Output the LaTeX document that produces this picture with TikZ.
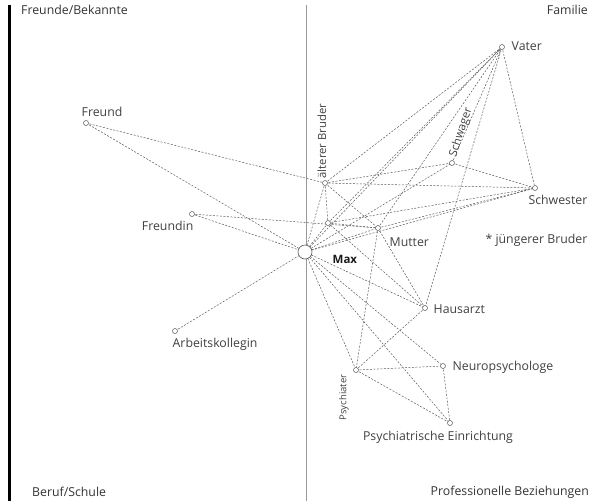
\documentclass[tikz,border=0pt]{standalone}
\usepackage{fontspec}
\setmainfont{Open Sans}
\begin{document}
\begin{tikzpicture}[x=1pt,y=-1pt,
  pnode/.style={circle,draw=black!65,fill=white,line width=0.5pt,inner sep=0pt,minimum size=5pt},
  maxnode/.style={circle,draw=black!65,fill=white,line width=0.6pt,inner sep=0pt,minimum size=14pt},
  rel/.style={draw=black!65,line width=0.5pt,dash pattern=on 2pt off 1.5pt},
  lbl/.style={font=\fontsize{12.3}{14}\selectfont,text=black!75,inner sep=0.5pt},
  rlbl/.style={font=\fontsize{11.3}{13}\selectfont,text=black!75,inner sep=0.5pt},
  corner/.style={font=\fontsize{12.3}{14}\selectfont,text=black!80,inner sep=0pt}]
\useasboundingbox (0,0) rectangle (598,501);
% axes
\draw[line width=3pt,black] (9,5) -- (9,501);
\draw[line width=0.8pt,black!40] (306,5) -- (306,501);
% corner labels
\node[corner,anchor=west] (qfb) at (21,10) {Freunde/Bekannte};
\node[corner,anchor=east] (qfam) at (588,10) {Familie};
\node[corner,anchor=west] (qbs) at (32,492) {Beruf/Schule};
\node[corner,anchor=east] (qpb) at (589,492) {Professionelle Beziehungen};
% nodes
\coordinate (max) at (305,252);
\coordinate (freund) at (86,123);
\coordinate (freundin) at (192,214);
\coordinate (arbeit) at (175,331);
\coordinate (bruder) at (325,183);
\coordinate (klein) at (328,223);
\coordinate (mutter) at (378,228);
\coordinate (schwager) at (452,163);
\coordinate (vater) at (502,47);
\coordinate (schwester) at (535,188);
\coordinate (hausarzt) at (425,308);
\coordinate (psychiater) at (356,370);
\coordinate (neuro) at (443,366);
\coordinate (einr) at (450,423);
% edges
\foreach \a/\b in {freund/bruder,freund/max,freundin/max,freundin/mutter,arbeit/max,
  max/bruder,max/klein,max/mutter,max/schwager,max/vater,max/schwester,max/hausarzt,
  max/neuro,max/einr,max/psychiater,
  bruder/vater,bruder/schwager,bruder/schwester,bruder/klein,bruder/mutter,
  klein/vater,klein/schwester,klein/mutter,klein/hausarzt,
  mutter/vater,mutter/schwester,mutter/hausarzt,mutter/psychiater,
  schwager/vater,schwager/schwester,vater/schwester,vater/hausarzt,
  hausarzt/psychiater,psychiater/neuro,psychiater/einr,neuro/einr}
  \draw[rel] (\a) -- (\b);
% node circles
\node[maxnode] (nmax) at (max) {};
\foreach \n in {freund,freundin,arbeit,bruder,klein,mutter,schwager,vater,schwester,hausarzt,psychiater,neuro,einr}
  \node[pnode] (n\n) at (\n) {};
% labels
\node[lbl,font=\fontsize{11.5}{13}\selectfont\bfseries,text=black!90,anchor=west] (lmax) at (332,259) {Max};
\node[lbl,anchor=west] (lfreund) at (81,112) {Freund};
\node[lbl,anchor=east] (lfreundin) at (194,226) {Freundin};
\node[lbl,anchor=west] (larbeit) at (172,344) {Arbeitskollegin};
\node[rlbl,anchor=west,rotate=90] (lbruder) at (322,179) {älterer Bruder};
\node[rlbl,anchor=west,rotate=72] (lschwager) at (453,157) {Schwager};
\node[lbl,anchor=west] (lvater) at (511,46) {Vater};
\node[lbl,anchor=east] (lschwester) at (588,200) {Schwester};
\node[lbl,anchor=east] (ljb) at (588,240) {* jüngerer Bruder};
\node[lbl,anchor=west] (lmutter) at (389,242) {Mutter};
\node[lbl,anchor=west] (lhausarzt) at (433,309) {Hausarzt};
\node[lbl,anchor=west] (lneuro) at (452,367) {Neuropsychologe};
\node[rlbl,font=\fontsize{9.5}{11}\selectfont,anchor=east,rotate=90] (lpsych) at (344,374) {Psychiater};
\node[lbl] (leinr) at (438,437) {Psychiatrische Einrichtung};
\end{tikzpicture}
\end{document}
